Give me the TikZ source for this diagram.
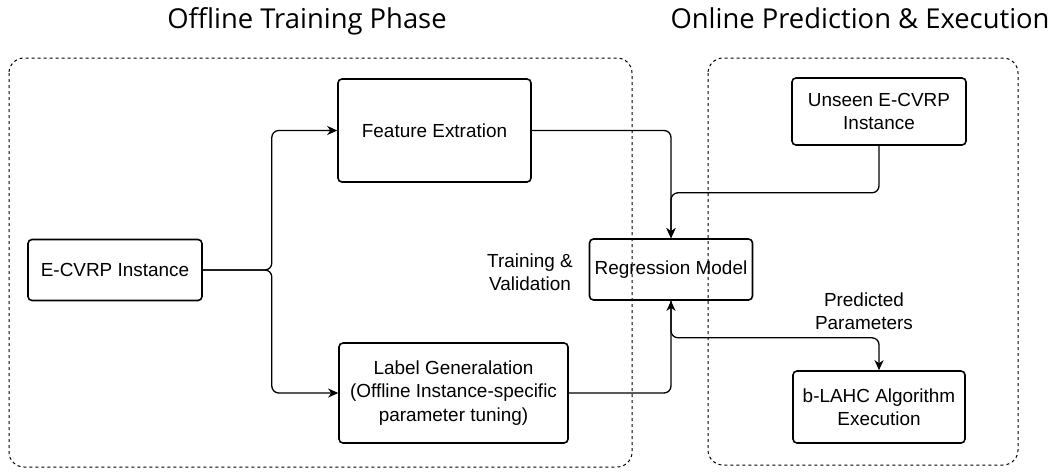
\documentclass[tikz,border=0pt]{standalone}
\usepackage{fontspec}
\setmainfont{Liberation Sans}
\newfontfamily\headfont{Open Sans}
\usepackage{tikz}
\usetikzlibrary{arrows.meta,shapes}

\tikzset{
	block/.style={draw, line width=1.6bp, rounded corners=4bp, align=center, inner sep=0bp,
		font=\fontsize{19}{23.5}\selectfont},
	phase/.style={draw, line width=1bp, dash pattern=on 3bp off 3bp, rounded corners=15bp},
	heading/.style={anchor=base, font=\headfont\fontsize{27.5}{32}\selectfont},
	note/.style={align=center, font=\fontsize{19}{23.5}\selectfont},
	flow/.style={->, line width=1.3bp, rounded corners=7bp},
}

\begin{document}
\begin{tikzpicture}[>={Stealth[length=10bp,width=9bp,inset=3bp]}]
	\useasboundingbox (0bp,0bp) rectangle (1060bp,-473bp);

	\draw [phase] (9bp,-58bp)  rectangle (632bp,-467bp);
	\draw [phase] (708bp,-58bp) rectangle (1018bp,-465bp);

	\node (offline) at (307bp,-28bp) [heading] {Offline Training Phase};
	\node (online)  at (860bp,-28bp) [heading] {Online Prediction \& Execution};

	\node (ecvrp)  at (115bp,-270bp)   [block, minimum width=174bp, minimum height=61bp]  {E-CVRP Instance};
	\node (feat)   at (434.5bp,-130.5bp) [block, minimum width=193bp, minimum height=103bp] {Feature Extration};
	\node (labgen) at (453.5bp,-393bp) [block, minimum width=229bp, minimum height=100bp]
		{Label Generalation\\(Offline Instance-specific\\parameter tuning)};
	\node (regr)   at (671bp,-269.5bp) [block, minimum width=163bp, minimum height=61bp]  {Regression Model};
	\node (unseen) at (879bp,-111.5bp) [block, minimum width=174bp, minimum height=67bp]  {Unseen E-CVRP\\Instance};
	\node (blahc)  at (879bp,-407bp)   [block, minimum width=172bp, minimum height=72bp]  {b-LAHC Algorithm\\Execution};

	\node (train) at (530bp,-272bp) [note] {Training \&\\Validation};
	\node (pred)  at (864bp,-311bp) [note] {Predicted\\Parameters};

	\draw [flow] (ecvrp.east) -- ++(69bp,0bp) |- (feat.west);
	\draw [flow] (ecvrp.east) -- ++(69bp,0bp) |- (labgen.west);
	\draw [flow] (feat.east) -| (regr.north);
	\draw [flow] (unseen.south) -- ++(0bp,-47bp) -| (regr.north);
	\draw [flow] (labgen.east) -| (regr.south);
	\draw [flow] (regr.south) -- ++(0bp,-37bp) -| (blahc.north);
\end{tikzpicture}
\end{document}
